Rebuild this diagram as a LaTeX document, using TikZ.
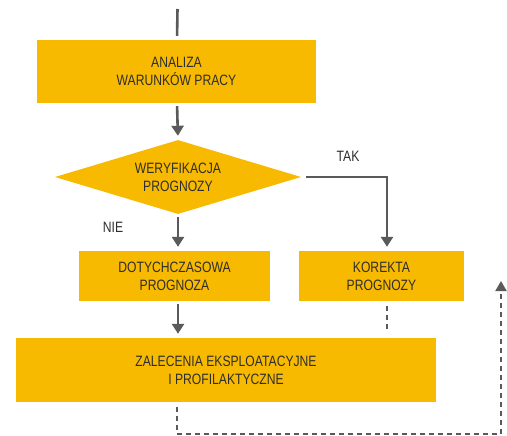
\documentclass[tikz,border=0pt]{standalone}
\usepackage{fontspec}
\setmainfont{Liberation Sans}[FakeStretch=0.81]
\usetikzlibrary{shapes.geometric,arrows.meta,calc}
\definecolor{boxyellow}{HTML}{F8BA00}
\definecolor{linegray}{HTML}{5A5A5A}
\definecolor{txtgray}{HTML}{2E2E2E}
\begin{document}
\begin{tikzpicture}[x=1pt,y=-1pt,
  box/.style={fill=boxyellow,draw=none,inner sep=0pt,align=center,text=txtgray,font=\fontsize{15}{18}\selectfont},
  dia/.style={diamond,aspect=3.32,fill=boxyellow,draw=none,inner sep=0pt,align=center,text=txtgray,font=\fontsize{15}{18}\selectfont},
  lbl/.style={text=txtgray,font=\fontsize{15}{16}\selectfont,inner sep=0pt},
  flow/.style={draw=linegray,line width=2.6pt,-{Triangle[width=12pt,length=10pt]},shorten <=3pt,shorten >=4pt},
  dashline/.style={draw=linegray,line width=2pt,dash pattern=on 5pt off 4pt},
]
\useasboundingbox (0,0) rectangle (507,436);
\fill[white] (0,0) rectangle (507,436);

\node[box,minimum width=279pt,minimum height=63pt] (a) at (176.5,71.5) {ANALIZA\\WARUNKÓW PRACY};
\node[dia,minimum width=246pt,minimum height=74pt] (d) at (178,177) {WERYFIKACJA\\PROGNOZY};
\node[box,minimum width=191pt,minimum height=50pt] (b) at (174.5,276) {DOTYCHCZASOWA\\PROGNOZA};
\node[box,minimum width=165pt,minimum height=50pt] (k) at (381.5,276) {KOREKTA\\PROGNOZY};
\node[box,minimum width=420pt,minimum height=64pt] (z) at (226,370) {ZALECENIA EKSPLOATACYJNE\\I PROFILAKTYCZNE};

\node[lbl] (tak) at (348,156) {TAK};
\node[lbl] (nie) at (113,227) {NIE};

\coordinate (top) at (177,9);
\coordinate (zl) at (177,434);
\coordinate (zr) at (501,434);
\coordinate (back) at (501,281);

\draw[draw=linegray,line width=2.6pt,shorten >=4pt] ([xshift=0.5pt]top) -- ([xshift=0.5pt]a.north);
\draw[flow] ([xshift=0.5pt]a.south) -- (d.north);
\draw[flow] (d.south) -- ([xshift=3.5pt]b.north);
\draw[flow,shorten <=5pt] (d.east) -| ([xshift=5.5pt]k.north);
\draw[flow] ([xshift=3.5pt]b.south) -- ([xshift=-48pt]z.north);
\draw[dashline,shorten <=5pt,shorten >=6pt] ([xshift=5.5pt]k.south) -- ([xshift=161pt]z.north);
\draw[dashline,shorten <=5pt,-{Triangle[width=11pt,length=10pt]}] ([xshift=-49pt]z.south) -- (zl) -- (zr) -- (back);
\end{tikzpicture}
\end{document}
